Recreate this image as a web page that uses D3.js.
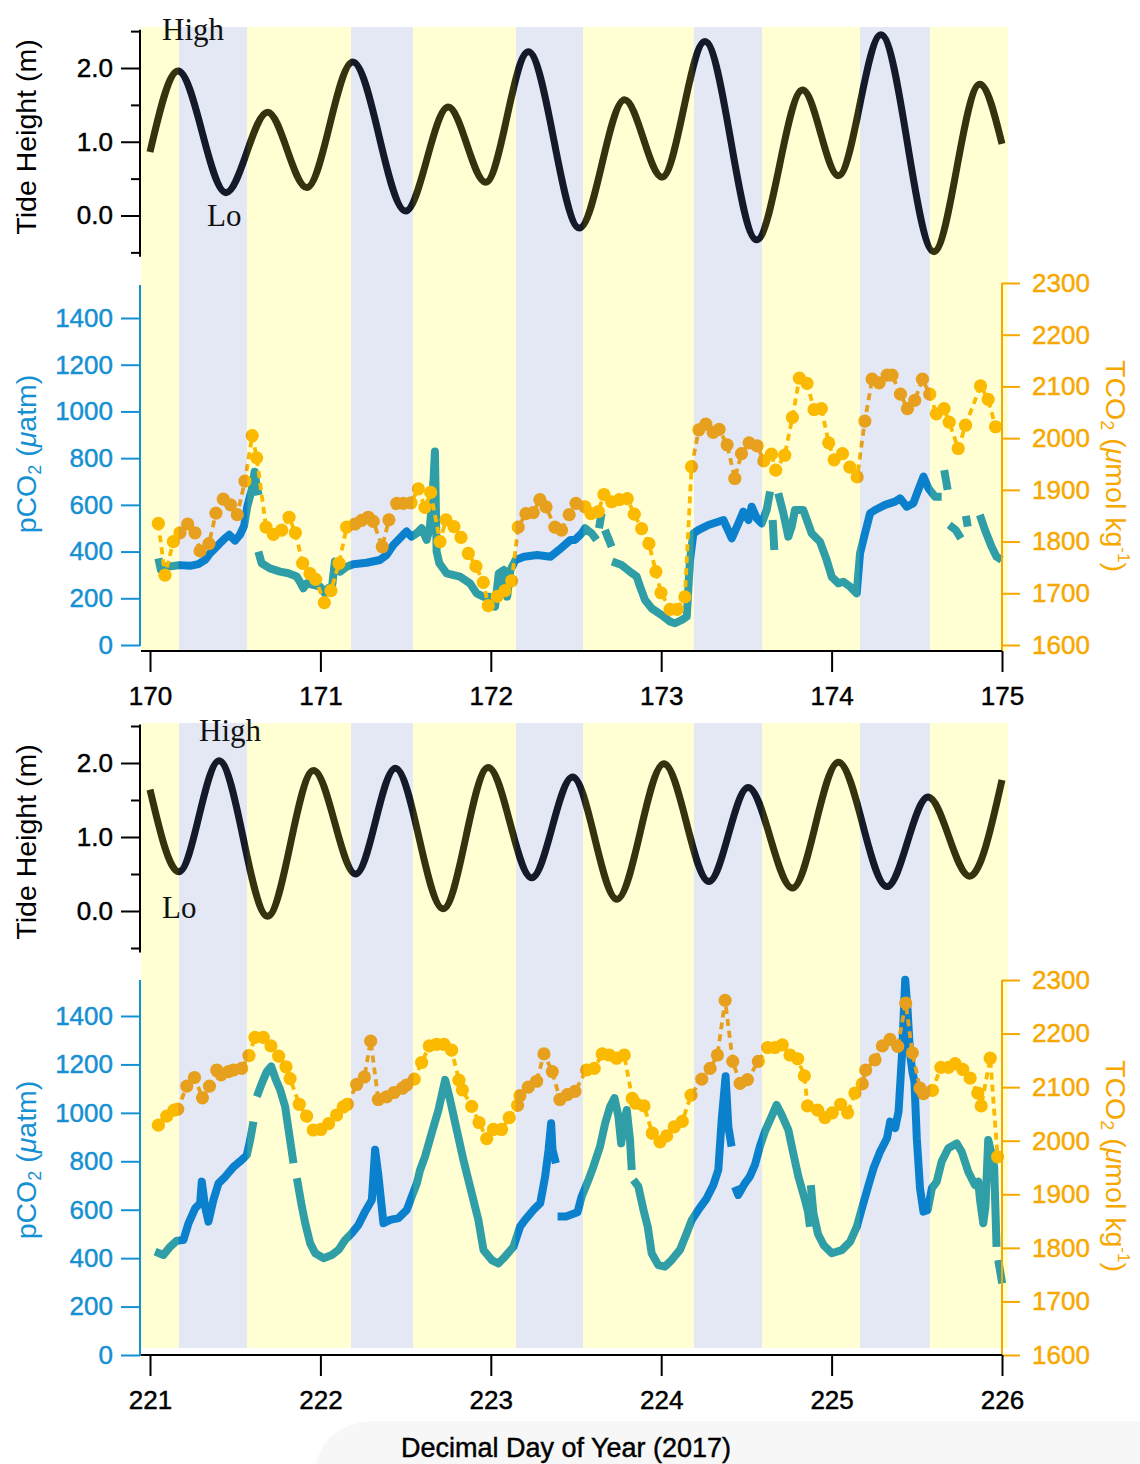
<!DOCTYPE html>
<html>
<head>
<meta charset="utf-8">
<script src="https://cdn.jsdelivr.net/npm/d3@7"></script>
<style>
  body { margin: 0; background: #fff; }
  svg { display: block; }
  svg text { font-family: "Liberation Sans", Arial, Helvetica, sans-serif; }
  svg text.serif { font-family: "Liberation Serif", "Times New Roman", serif; }
  svg text.heavy { stroke: currentColor; stroke-width: 0.45px; paint-order: stroke; }
</style>
</head>
<body>
<svg id="chart" width="1140" height="1464"></svg>
<script>
// ---------- Shading: alternating pale-yellow / pale-blue periods (day of year) ----------
const shadeEdges170 = [169.947, 170.170, 170.569, 171.180, 171.543, 172.148, 172.541, 173.192, 173.592, 174.167, 174.577, 175.035];
const shadeEdges221 = [220.947, 221.170, 221.569, 222.180, 222.543, 223.148, 223.541, 224.192, 224.592, 225.167, 225.577, 226.035];

// ---------- Tide height (m): turning points of the predicted tide ----------
const tideDay170 = [170.0, 170.165, 170.446, 170.69, 170.92, 171.19, 171.50, 171.75, 171.97, 172.22, 172.52, 172.785, 173.005, 173.257, 173.56, 173.83, 174.04, 174.29, 174.60, 174.87, 175.0];
const tide170    = [0.86, 1.96, 0.31, 1.40, 0.38, 2.08, 0.06, 1.47, 0.45, 2.22, -0.17, 1.57, 0.52, 2.36, -0.33, 1.70, 0.54, 2.45, -0.49, 1.78, 0.97];
const tideDay221 = [221.0, 221.17, 221.405, 221.69, 221.96, 222.207, 222.44, 222.72, 222.985, 223.24, 223.48, 223.74, 224.016, 224.28, 224.51, 224.77, 225.04, 225.325, 225.566, 225.81, 226.0];
const tide221    = [1.64, 0.53, 2.03, -0.07, 1.90, 0.50, 1.93, 0.03, 1.94, 0.45, 1.81, 0.16, 1.99, 0.40, 1.67, 0.31, 2.01, 0.33, 1.54, 0.47, 1.77];

// ---------- pCO2 (µatm); null marks a gap in the record ----------
const pco2Day170 = [
  170.049,170.063,170.088,170.137,170.172,170.235,170.284,170.323,170.352,170.391,170.440,170.465,170.499,170.528,170.552,170.571,170.597,170.614,170.626,170.637,null,
  170.636,170.655,170.704,170.763,170.812,170.861,170.880,170.900,170.919,170.958,170.998,171.027,171.046,171.066,171.085,171.115,171.154,171.193,171.271,171.349,
  171.388,171.428,171.486,171.506,171.535,171.565,171.594,171.624,171.643,171.663,171.672,171.682,171.698,171.741,171.819,171.878,171.917,171.956,171.995,172.025,
  172.047,172.076,172.096,172.115,172.145,172.194,172.272,172.351,172.400,172.468,172.494,172.533,172.553,172.592,172.621,null,
  172.635,172.650,null,
  172.670,172.709,null,
  172.712,172.768,172.817,172.856,172.876,172.905,172.944,173.003,173.052,173.081,173.120,173.150,173.169,173.189,173.218,173.277,173.335,173.365,173.414,173.453,
  173.482,173.512,173.531,173.561,173.590,173.619,173.639,null,
  173.654,173.664,null,
  173.687,173.717,173.746,173.766,173.785,173.834,173.883,173.932,173.971,174.001,174.040,174.069,174.108,174.147,174.167,174.196,174.226,174.255,174.314,174.372,
  174.402,174.441,174.480,174.509,174.539,174.568,174.607,174.646,null,
  174.661,174.681,null,
  174.690,174.729,174.759,null,
  174.788,174.799,null,
  174.870,174.900,174.939,174.968,174.998
];
const pco2_170 = [
  371,324,335,338,342,339,346,364,392,421,457,472,447,472,510,593,664,742,678,642,null,
  400,350,328,314,307,293,270,243,264,257,250,221,243,236,357,314,335,346,352,364,
  385,428,472,486,464,478,500,450,507,693,828,400,350,307,293,264,221,207,207,164,
  307,321,207,321,364,378,385,378,407,450,450,478,500,478,450,null,
  500,564,null,
  492,421,null,
  357,342,314,293,250,193,157,128,100,93,107,121,364,478,492,514,528,535,457,521,
  571,535,592,542,521,578,657,null,
  535,407,null,
  650,564,464,507,578,578,478,442,364,292,264,271,250,221,393,478,564,578,600,614,
  628,592,607,664,721,671,635,635,null,
  749,664,null,
  514,492,457,null,
  553,507,null,
  557,492,421,378,364
];
const pco2Day221 = [
  221.030,221.079,221.118,221.157,221.196,221.226,221.265,221.294,221.304,221.323,221.343,221.372,221.402,221.441,221.490,221.539,221.568,221.588,221.607,null,
  221.627,221.656,221.686,221.711,221.739,221.764,221.793,221.822,221.842,null,
  221.862,221.891,221.911,221.940,221.970,222.018,222.067,222.106,222.145,222.184,222.223,222.262,222.302,222.321,222.341,222.370,222.409,222.458,222.507,222.536,
  222.566,222.585,222.614,222.653,222.693,222.732,222.761,222.800,222.839,222.878,222.927,222.957,223.005,223.044,223.083,223.133,223.172,223.201,223.250,223.290,
  223.319,223.339,223.354,223.362,223.382,null,
  223.392,223.441,223.509,223.533,223.573,223.602,223.641,223.671,223.700,223.726,223.749,223.765,223.779,223.798,223.817,223.827,null,
  223.837,223.866,223.896,223.921,223.944,223.983,224.022,224.061,224.110,224.149,224.179,224.218,224.267,224.306,224.335,224.355,224.378,224.394,224.413,null,
  224.433,224.452,224.491,224.520,224.550,224.579,224.609,224.648,224.677,224.707,224.746,224.775,224.805,224.844,224.862,224.873,null,
  224.878,224.893,224.920,224.953,225.001,225.060,225.109,225.148,225.178,225.217,225.246,225.285,225.325,225.344,225.373,225.393,225.413,225.432,225.447,225.461,
  225.474,225.486,225.500,225.519,225.539,225.564,225.588,225.617,225.646,225.685,225.734,225.763,225.802,225.841,225.861,225.870,225.890,225.903,225.919,225.938,
  225.954,225.968,null,
  225.978,226.001
];
const pco2_221 = [
  427,413,447,472,475,544,606,627,716,613,551,640,709,736,777,806,826,888,964,null,
  1067,1122,1171,1192,1136,1095,1026,888,792,null,
  730,613,544,461,420,400,413,434,475,503,537,592,640,848,737,544,558,565,599,654,
  709,764,819,916,1012,1136,1054,930,806,696,558,434,392,378,406,447,530,558,599,627,
  737,848,957,848,792,null,
  572,572,590,654,723,778,861,957,1026,1061,985,874,957,1012,888,764,null,
  723,695,599,530,420,371,365,392,434,502,557,599,647,702,764,971,1151,943,861,null,
  695,661,709,737,785,861,923,985,1033,992,930,833,737,640,590,530,null,
  702,587,500,454,420,433,468,530,606,702,771,840,895,964,937,1006,1240,1550,1412,1240,
  1171,1130,895,688,592,599,688,716,799,854,874,840,757,702,716,647,544,613,888,833,
  778,447,null,
  392,296
];

// ---------- TCO2 (µmol kg-1) discrete samples ----------
const tco2Day170 = [
  170.049,170.088,170.137,170.176,170.221,170.264,170.294,170.346,170.387,170.430,170.473,170.512,170.557,170.600,170.626,170.681,170.724,170.773,170.816,170.853,
  170.896,170.939,170.972,171.023,171.062,171.109,171.154,171.203,171.242,171.281,171.310,171.363,171.402,171.448,171.487,171.532,171.575,171.614,171.647,171.702,
  171.737,171.784,171.825,171.868,171.913,171.956,171.985,172.038,172.083,172.122,172.161,172.206,172.249,172.288,172.324,172.376,172.415,172.460,172.500,172.553,
  172.588,172.631,172.664,172.709,172.754,172.801,172.842,172.885,172.928,172.969,172.999,173.052,173.094,173.139,173.178,173.221,173.262,173.305,173.340,173.387,
  173.432,173.471,173.516,173.563,173.602,173.647,173.672,173.725,173.770,173.811,173.856,173.897,173.940,173.983,174.015,174.064,174.107,174.150,174.195,174.238,
  174.279,174.326,174.355,174.404,174.445,174.488,174.533,174.576,174.615,174.660,174.690,174.743,174.786,174.874,174.919,174.962
];
const tco2_170 = [
  1835,1735,1800,1817,1834,1817,1782,1796,1855,1882,1871,1852,1917,2005,1962,1828,1814,1822,1847,1817,
  1758,1738,1727,1682,1705,1758,1828,1834,1841,1847,1839,1790,1842,1874,1874,1875,1902,1866,1895,1800,
  1842,1829,1808,1777,1752,1721,1676,1694,1705,1724,1828,1854,1856,1881,1867,1828,1822,1852,1874,1867,
  1854,1858,1891,1877,1881,1883,1853,1825,1796,1742,1701,1669,1669,1693,1945,2016,2027,2011,2017,1987,
  1922,1970,1991,1985,1956,1969,1938,1967,2040,2116,2106,2055,2057,1991,1958,1970,1944,1925,2033,2114,
  2107,2122,2122,2085,2057,2073,2114,2085,2047,2057,2031,1980,2025,2101,2075,2022
];
const tco2Day221 = [
  221.049,221.098,221.141,221.163,221.216,221.261,221.308,221.349,221.392,221.417,221.460,221.489,221.538,221.581,221.616,221.665,221.710,221.755,221.798,221.822,
  221.876,221.919,221.958,222.003,222.048,222.095,222.134,222.158,222.213,222.258,222.295,222.340,222.389,222.432,222.481,222.506,222.551,222.594,222.639,222.682,
  222.725,222.770,222.813,222.833,222.888,222.931,222.976,223.015,223.063,223.108,223.157,223.171,223.220,223.269,223.312,223.361,223.406,223.449,223.494,223.562,
  223.607,223.654,223.695,223.738,223.783,223.830,223.850,223.899,223.948,223.993,224.032,224.077,224.124,224.175,224.238,224.287,224.330,224.375,224.420,224.463,
  224.506,224.570,224.625,224.668,224.711,224.756,224.801,224.840,224.859,224.918,224.961,225.004,225.053,225.094,225.137,225.180,225.200,225.255,225.298,225.343,
  225.388,225.435,225.474,225.519,225.539,225.592,225.641,225.686,225.725,225.770,225.813,225.858,225.878,225.931,225.974
];
const tco2_221 = [
  2029,2046,2057,2059,2102,2118,2080,2102,2132,2123,2129,2132,2135,2159,2193,2193,2177,2158,2138,2116,
  2068,2046,2020,2021,2032,2048,2063,2068,2105,2119,2186,2077,2082,2090,2098,2104,2115,2146,2177,2180,
  2180,2169,2113,2095,2064,2034,2004,2021,2021,2043,2066,2084,2100,2111,2162,2129,2077,2086,2092,2132,
  2135,2162,2160,2154,2160,2079,2070,2065,2014,1998,2009,2026,2036,2085,2115,2135,2160,2262,2148,2107,
  2114,2148,2174,2174,2179,2160,2153,2121,2065,2057,2043,2052,2068,2052,2089,2106,2132,2151,2177,2189,
  2176,2257,2164,2098,2088,2094,2137,2137,2144,2133,2117,2089,2065,2154,1970
];

// ---------- Axis ticks ----------
const tideTicks = [0, 1, 2];
const tideMinorTicks = [-0.5, 0.5, 1.5, 2.5];
const pco2Ticks = [0, 200, 400, 600, 800, 1000, 1200, 1400];
const tco2Ticks = [1600, 1700, 1800, 1900, 2000, 2100, 2200, 2300];

// ---------- Styling ----------
const C = {
  shadeDay: "#ffffd3", shadeNight: "#e3e8f4",
  tideDay: "#34320f", tideNight: "#141a29",
  pco2Day: "#2f9ea7", pco2Night: "#0b81cd",
  tco2Day: "#fbb900", tco2Night: "#e6a01e",
  pco2Axis: "#1590d2", tco2Axis: "#f7a800", ink: "#000"
};
const TICK_FONT = 26;
const TITLE_FONT = 28.5;

const svg = d3.select("#chart");
const defs = svg.append("defs");

// faint grey patch under the x-axis title
svg.append("path")
  .attr("d", "M316,1464 Q326,1424 372,1421 L1140,1421 L1140,1464 Z")
  .attr("fill", "#f7f7f7");

function styleLabels(sel, color) {
  sel.attr("font-size", TICK_FONT).attr("fill", color)
    .attr("class", "heavy").style("color", color);
}

function drawPanel(cfg) {
  const g = svg.append("g");
  const x = d3.scaleLinear().domain([cfg.day0, cfg.day0 + 5]).range([150, 1002]);
  const yTide = d3.scaleLinear().domain([0, 2]).range([cfg.tide0, cfg.tide2]);
  const yP = d3.scaleLinear().domain([0, 1400]).range([cfg.p0, cfg.p1400]);
  const yT = d3.scaleLinear().domain([1600, 2300]).range([cfg.t1600, cfg.t2300]);

  // background periods
  const bands = d3.pairs(cfg.edges).map((e, i) => ({ a: e[0], b: e[1], kind: i % 2 === 0 ? "day" : "night" }));
  g.append("g").selectAll("rect").data(bands).join("rect")
    .attr("x", d => x(d.a)).attr("width", d => x(d.b) - x(d.a))
    .attr("y", cfg.shadeTop).attr("height", cfg.shadeBottom - cfg.shadeTop)
    .attr("fill", d => d.kind === "day" ? C.shadeDay : C.shadeNight);

  // clip regions so each series takes the tint of the period it falls in
  ["day", "night"].forEach(k => {
    defs.append("clipPath").attr("id", `${cfg.id}-${k}`)
      .selectAll("rect").data(bands.filter(b => b.kind === k)).join("rect")
      .attr("x", d => x(d.a) - 0.3).attr("width", d => x(d.b) - x(d.a) + 0.6)
      .attr("y", cfg.clipTop).attr("height", cfg.clipBottom - cfg.clipTop);
  });

  const tidePts = d3.zip(cfg.tideDay, cfg.tide);
  const pPts = d3.zip(cfg.pDay, cfg.p);
  const tPts = d3.zip(cfg.tDay, cfg.t);

  const tideLine = d3.line().x(d => x(d[0])).y(d => yTide(d[1])).curve(d3.curveMonotoneX);
  const pLine = d3.line().defined(d => d[1] != null).x(d => x(d[0])).y(d => yP(d[1]));
  const tLine = d3.line().x(d => x(d[0])).y(d => yT(d[1]));

  ["day", "night"].forEach(k => {
    const layer = g.append("g").attr("clip-path", `url(#${cfg.id}-${k})`);
    layer.append("path").attr("d", tideLine(tidePts))
      .attr("fill", "none").attr("stroke", k === "day" ? C.tideDay : C.tideNight)
      .attr("stroke-width", 7).attr("stroke-linejoin", "round");
    layer.append("path").attr("d", pLine(pPts))
      .attr("fill", "none").attr("stroke", k === "day" ? C.pco2Day : C.pco2Night)
      .attr("stroke-width", 8).attr("stroke-linejoin", "round");
  });
  ["day", "night"].forEach(k => {
    const layer = g.append("g").attr("clip-path", `url(#${cfg.id}-${k})`);
    const col = k === "day" ? C.tco2Day : C.tco2Night;
    layer.append("path").attr("d", tLine(tPts))
      .attr("fill", "none").attr("stroke", col)
      .attr("stroke-width", 3.8).attr("stroke-dasharray", "7,5");
    layer.selectAll("circle").data(tPts).join("circle")
      .attr("cx", d => x(d[0])).attr("cy", d => yT(d[1])).attr("r", 6.6)
      .attr("fill", col);
  });

  // ---- Tide axis ----
  const tideAxis = g.append("g").attr("transform", "translate(140,0)");
  tideAxis.call(d3.axisLeft(yTide).tickValues(tideTicks).tickSize(19).tickPadding(8).tickFormat(d3.format(".1f")));
  tideAxis.append("g").call(d3.axisLeft(yTide).tickValues(tideMinorTicks).tickSize(9).tickFormat(""));
  tideAxis.selectAll(".domain").remove();
  tideAxis.append("line").attr("x1", 0).attr("x2", 0)
    .attr("y1", yTide(2.52)).attr("y2", yTide(-0.56));
  tideAxis.selectAll("line").attr("stroke", C.ink).attr("stroke-width", 2);
  styleLabels(tideAxis.selectAll("text"), C.ink);

  // ---- pCO2 axis ----
  const pAxis = g.append("g").attr("transform", "translate(140,0)");
  pAxis.call(d3.axisLeft(yP).tickValues(pco2Ticks).tickSize(19).tickPadding(8).tickFormat(d3.format("d")));
  pAxis.select(".domain").remove();
  pAxis.append("line").attr("x1", 0).attr("x2", 0).attr("y1", yP(0) + 1).attr("y2", cfg.pTop);
  pAxis.selectAll("line").attr("stroke", C.pco2Axis).attr("stroke-width", 2);
  styleLabels(pAxis.selectAll("text"), C.pco2Axis);

  // ---- TCO2 axis ----
  const tAxis = g.append("g").attr("transform", "translate(1002,0)");
  tAxis.call(d3.axisRight(yT).tickValues(tco2Ticks).tickSize(18).tickPadding(12).tickFormat(d3.format("d")));
  tAxis.select(".domain").remove();
  tAxis.append("line").attr("x1", 0).attr("x2", 0).attr("y1", cfg.xAxisY).attr("y2", yT(2300));
  tAxis.selectAll("line").attr("stroke", C.tco2Axis).attr("stroke-width", 2);
  styleLabels(tAxis.selectAll("text"), C.tco2Axis);

  // ---- Day axis ----
  const xAxis = g.append("g").attr("transform", `translate(0,${cfg.xAxisY})`);
  xAxis.call(d3.axisBottom(x).tickValues(d3.range(cfg.day0, cfg.day0 + 6)).tickSize(21).tickPadding(15).tickFormat(d3.format("d")));
  xAxis.select(".domain").remove();
  xAxis.append("line").attr("x1", 141).attr("x2", x(cfg.day0 + 5)).attr("y1", 0).attr("y2", 0);
  xAxis.selectAll("line").attr("stroke", C.ink).attr("stroke-width", 2);
  styleLabels(xAxis.selectAll("text"), C.ink);

  // ---- Axis titles ----
  g.append("text").attr("transform", `translate(36,${cfg.tideTitleY}) rotate(-90)`)
    .attr("text-anchor", "middle").attr("font-size", TITLE_FONT).attr("fill", C.ink)
    .text("Tide Height (m)");

  const pt = g.append("text").attr("transform", `translate(36,${cfg.pTitleY}) rotate(-90)`)
    .attr("text-anchor", "middle").attr("font-size", TITLE_FONT).attr("fill", C.pco2Axis);
  pt.append("tspan").text("pCO");
  pt.append("tspan").attr("font-size", 18).attr("dy", 5).text("2");
  pt.append("tspan").attr("dy", -5).text(" (");
  pt.append("tspan").attr("font-style", "italic").text("μ");
  pt.append("tspan").text("atm)");

  const tt = g.append("text").attr("transform", `translate(1106,${cfg.tTitleY}) rotate(90)`)
    .attr("text-anchor", "middle").attr("font-size", TITLE_FONT).attr("fill", C.tco2Axis);
  tt.append("tspan").text("TCO");
  tt.append("tspan").attr("font-size", 18).attr("dy", 5).text("2");
  tt.append("tspan").attr("dy", -5).text(" (");
  tt.append("tspan").attr("font-style", "italic").text("μ");
  tt.append("tspan").text("mol kg");
  tt.append("tspan").attr("font-size", 17).attr("dy", -12).text("-1");
  tt.append("tspan").attr("dy", 12).text(")");

  // ---- High / Lo tide markers ----
  g.append("text").attr("class", "serif").attr("x", cfg.high[0]).attr("y", cfg.high[1])
    .attr("font-size", 31).attr("fill", "#111").text("High");
  g.append("text").attr("class", "serif").attr("x", cfg.lo[0]).attr("y", cfg.lo[1])
    .attr("font-size", 31).attr("fill", "#111").text("Lo");
}

drawPanel({
  id: "p170", day0: 170, edges: shadeEdges170,
  tideDay: tideDay170, tide: tide170, pDay: pco2Day170, p: pco2_170, tDay: tco2Day170, t: tco2_170,
  tide0: 215.5, tide2: 68, p0: 645, p1400: 318, pTop: 285, t1600: 645, t2300: 283,
  shadeTop: 27, shadeBottom: 651, clipTop: 0, clipBottom: 700, xAxisY: 651,
  tideTitleY: 137, pTitleY: 454, tTitleY: 466,
  high: [162, 40], lo: [207, 226]
});

drawPanel({
  id: "p221", day0: 221, edges: shadeEdges221,
  tideDay: tideDay221, tide: tide221, pDay: pco2Day221, p: pco2_221, tDay: tco2Day221, t: tco2_221,
  tide0: 911, tide2: 763, p0: 1355, p1400: 1016, pTop: 980, t1600: 1355, t2300: 980,
  shadeTop: 723, shadeBottom: 1348, clipTop: 705, clipBottom: 1420, xAxisY: 1355,
  tideTitleY: 842, pTitleY: 1160, tTitleY: 1166,
  high: [199, 741], lo: [162, 918]
});

svg.append("text").attr("x", 566).attr("y", 1457).attr("text-anchor", "middle")
  .attr("class", "heavy").style("color", C.ink)
  .attr("font-size", 27).attr("fill", C.ink).text("Decimal Day of Year (2017)");
</script>
</body>
</html>
